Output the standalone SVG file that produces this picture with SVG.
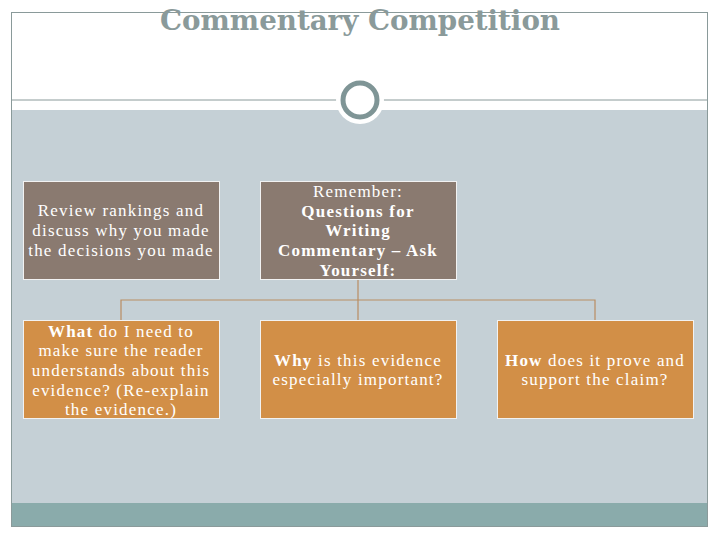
<svg xmlns="http://www.w3.org/2000/svg" width="720" height="540" viewBox="0 0 720 540">
<style>
.t{font-family:"Liberation Serif","DejaVu Serif",serif;font-size:17px;letter-spacing:1.2px;fill:#ffffff;text-anchor:middle}
.b{font-weight:bold}
.brown{fill:#8a7a70;stroke:#f2f2f2;stroke-width:1}
.orange{fill:#d28f47;stroke:#f2f2f2;stroke-width:1}
.conn{stroke:#b98d62;stroke-width:1.2;fill:none}
</style>
<rect x="0" y="0" width="720" height="540" fill="#ffffff"/>
<rect x="11" y="110" width="697" height="393" fill="#c5d0d6"/>
<rect x="11" y="503" width="697" height="24" fill="#8aabab"/>
<rect x="11.5" y="12.5" width="696" height="514" fill="none" stroke="#8a9a9a" stroke-width="1"/>
<line x1="11" y1="100" x2="708" y2="100" stroke="#8a9a9a" stroke-width="1"/>
<circle cx="360" cy="100" r="24" fill="#ffffff"/>
<circle cx="360" cy="100" r="17" fill="#ffffff" stroke="#7f9596" stroke-width="5"/>
<text x="360" y="30" font-family="DejaVu Serif,Liberation Serif,serif" font-size="28" font-weight="bold" fill="#8a9a9a" text-anchor="middle" textLength="400" lengthAdjust="spacingAndGlyphs">Commentary Competition</text>
<g id="connectors">
<path class="conn" d="M358 279V300M121 320V300H595V320M358 300V320"/>
</g>
<g id="n1">
<rect class="brown" x="23.5" y="181.5" width="196" height="98"/>
<text class="t"><tspan x="121" y="216">Review rankings and</tspan><tspan x="121" y="236">discuss why you made</tspan><tspan x="121" y="256">the decisions you made</tspan></text>
</g>
<g id="n2">
<rect class="brown" x="260.5" y="181.5" width="196" height="98"/>
<text class="t"><tspan x="358" y="197">Remember:</tspan><tspan x="358" y="217" class="b">Questions for</tspan><tspan x="358" y="236" class="b">Writing</tspan><tspan x="358" y="256" class="b">Commentary – Ask</tspan><tspan x="358" y="276" class="b">Yourself:</tspan></text>
</g>
<g id="n3">
<rect class="orange" x="23.5" y="320.5" width="196" height="98"/>
<text class="t"><tspan x="121" y="337"><tspan class="b">What</tspan> do I need to</tspan><tspan x="121" y="356">make sure the reader</tspan><tspan x="121" y="376">understands about this</tspan><tspan x="121" y="396">evidence? (Re-explain</tspan><tspan x="121" y="415">the evidence.)</tspan></text>
</g>
<g id="n4">
<rect class="orange" x="260.5" y="320.5" width="196" height="98"/>
<text class="t"><tspan x="358" y="366"><tspan class="b">Why</tspan> is this evidence</tspan><tspan x="358" y="385">especially important?</tspan></text>
</g>
<g id="n5">
<rect class="orange" x="497.5" y="320.5" width="196" height="98"/>
<text class="t"><tspan x="595" y="366"><tspan class="b">How</tspan> does it prove and</tspan><tspan x="595" y="385">support the claim?</tspan></text>
</g>
</svg>
